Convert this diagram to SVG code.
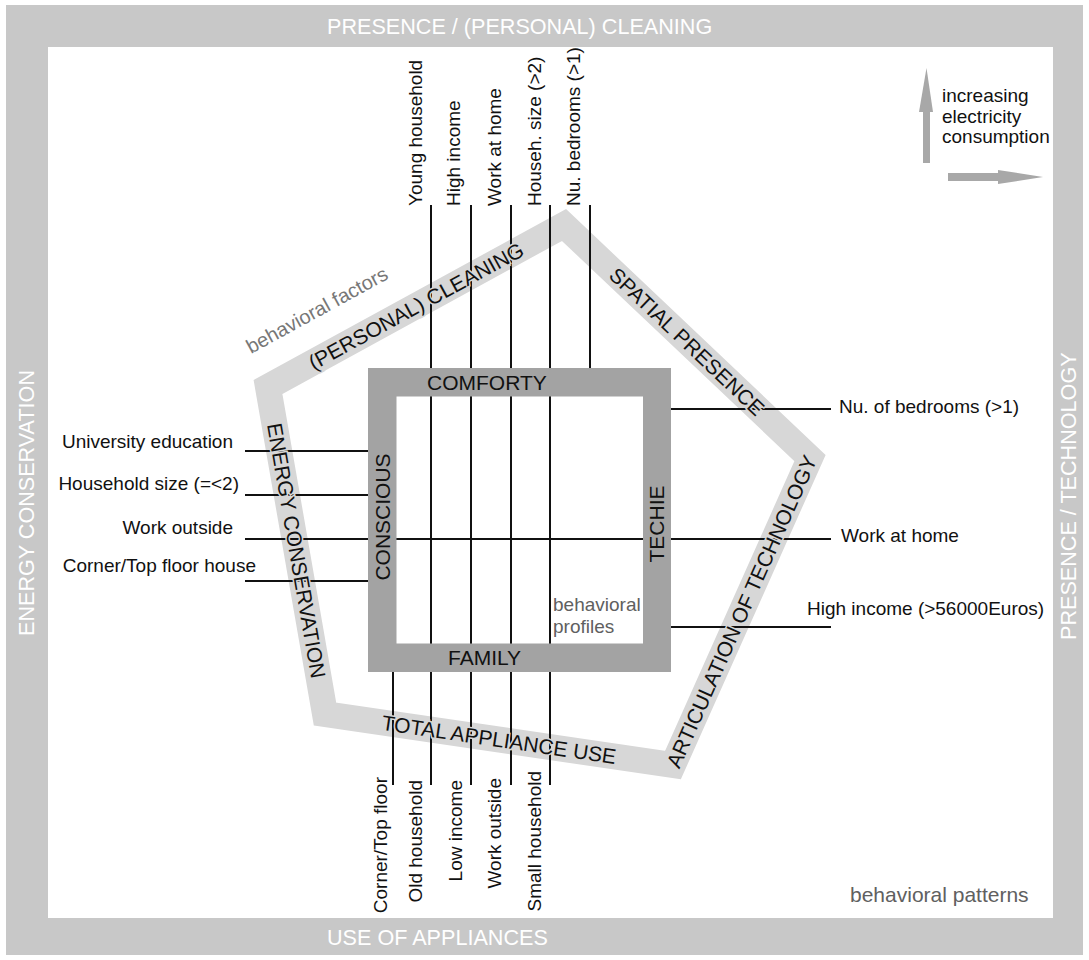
<svg xmlns="http://www.w3.org/2000/svg" width="1089" height="960" viewBox="0 0 1089 960">
<style>
text{font-family:"Liberation Sans",Arial,sans-serif}
.lbl{font-size:19px;fill:#111}
.frm{font-size:21.6px;fill:#fff}
.band{font-size:21px;fill:#111;text-anchor:middle;paint-order:stroke;stroke:#d7d7d7;stroke-width:3px}
.box{font-size:21px;fill:#111}
.gry{fill:#606060}
.ln{stroke:#111;stroke-width:2;fill:none}
.arw{fill:#a8a8a8}
</style>
<rect width="1089" height="960" fill="#fff"/>
<g id="frame">
<path d="M6 5H1083V955H6Z M48 47V918H1053V47Z" fill="#c8c8c8" fill-rule="evenodd"/>
<text class="frm" x="327" y="34">PRESENCE / (PERSONAL) CLEANING</text>
<text class="frm" x="327" y="945">USE OF APPLIANCES</text>
<text class="frm" transform="translate(34,636) rotate(-90)">ENERGY CONSERVATION</text>
<text class="frm" transform="translate(1076,640) rotate(-90)">PRESENCE / TECHNOLOGY</text>
<text class="gry" x="850" y="902" style="font-size:21px">behavioral patterns</text>
</g>
<g id="pentagon">
<polygon points="564,225 810,458 673,765 325,714 268,387" fill="none" stroke="#d7d7d7" stroke-width="26" stroke-linejoin="miter"/>
</g>
<g id="connectors" class="ln">
<path d="M431 205V785M471 205V785M511 205V785M550 205V785M590 205V368M393 672V785"/>
<path d="M245 451H368M245 495H368M245 539H831M245 581H368M671 409H831M671 627H831"/>
</g>
<g id="profiles-box">
<path d="M368 368H671V672H368Z M396.5 396.5V643.5H643V396.5Z" fill="#a3a3a3" fill-rule="evenodd"/>
<text class="box" x="427" y="390">COMFORTY</text>
<text class="box" x="448" y="665">FAMILY</text>
<text class="box" text-anchor="middle" transform="translate(390,517) rotate(-90)">CONSCIOUS</text>
<text class="box" text-anchor="middle" transform="translate(664,524) rotate(-90)">TECHIE</text>
<text class="gry" x="553" y="611" style="font-size:19px">behavioral</text>
<text class="gry" x="553" y="633" style="font-size:19px">profiles</text>
</g>
<g id="band-cleaning"><text class="band" transform="translate(416,306) rotate(-28.69)" y="7.5">(PERSONAL) CLEANING</text></g>
<g id="band-spatial"><text class="band" transform="translate(687,341.5) rotate(43.45)" y="7.5">SPATIAL PRESENCE</text></g>
<g id="band-technology"><text class="band" transform="translate(741.5,611.5) rotate(-65.95)" y="7.5">ARTICULATION OF TECHNOLOGY</text></g>
<g id="band-appliance"><text class="band" transform="translate(499,739.5) rotate(8.34)" y="7.5">TOTAL APPLIANCE USE</text></g>
<g id="band-energy"><text class="band" transform="translate(296.5,550.5) rotate(80.11)" y="7.5">ENERGY CONSERVATION</text></g>
<g id="factors-label"><text class="gry" style="font-size:20px;fill:#777" transform="translate(251,354) rotate(-28.7)">behavioral factors</text></g>
<g id="top-labels" class="lbl">
<text transform="translate(422,206) rotate(-90)">Young household</text>
<text transform="translate(460,206) rotate(-90)">High income</text>
<text transform="translate(501,206) rotate(-90)">Work at home</text>
<text transform="translate(541,206) rotate(-90)">Househ. size (&gt;2)</text>
<text transform="translate(580,206) rotate(-90)">Nu. bedrooms (&gt;1)</text>
</g>
<g id="bottom-labels" class="lbl" text-anchor="end">
<text transform="translate(387,777) rotate(-90)">Corner/Top floor</text>
<text transform="translate(422,780) rotate(-90)">Old household</text>
<text transform="translate(462,780) rotate(-90)">Low income</text>
<text transform="translate(501,778) rotate(-90)">Work outside</text>
<text transform="translate(541,771) rotate(-90)">Small household</text>
</g>
<g id="left-labels" class="lbl" text-anchor="end">
<text x="233" y="448">University education</text>
<text x="239" y="490">Household size (=&lt;2)</text>
<text x="233" y="534">Work outside</text>
<text x="256" y="572">Corner/Top floor house</text>
</g>
<g id="right-labels" class="lbl">
<text x="839" y="413">Nu. of bedrooms (&gt;1)</text>
<text x="841" y="542">Work at home</text>
<text x="807" y="615">High income (&gt;56000Euros)</text>
</g>
<g id="legend">
<rect class="arw" x="923" y="112" width="7" height="51"/>
<polygon class="arw" points="919,112 933,112 926.5,68"/>
<rect class="arw" x="948" y="173" width="50" height="8"/>
<polygon class="arw" points="998,170 998,184 1043,177"/>
<text class="lbl" x="942" y="102">increasing</text>
<text class="lbl" x="942" y="123">electricity</text>
<text class="lbl" x="942" y="143">consumption</text>
</g>
</svg>
